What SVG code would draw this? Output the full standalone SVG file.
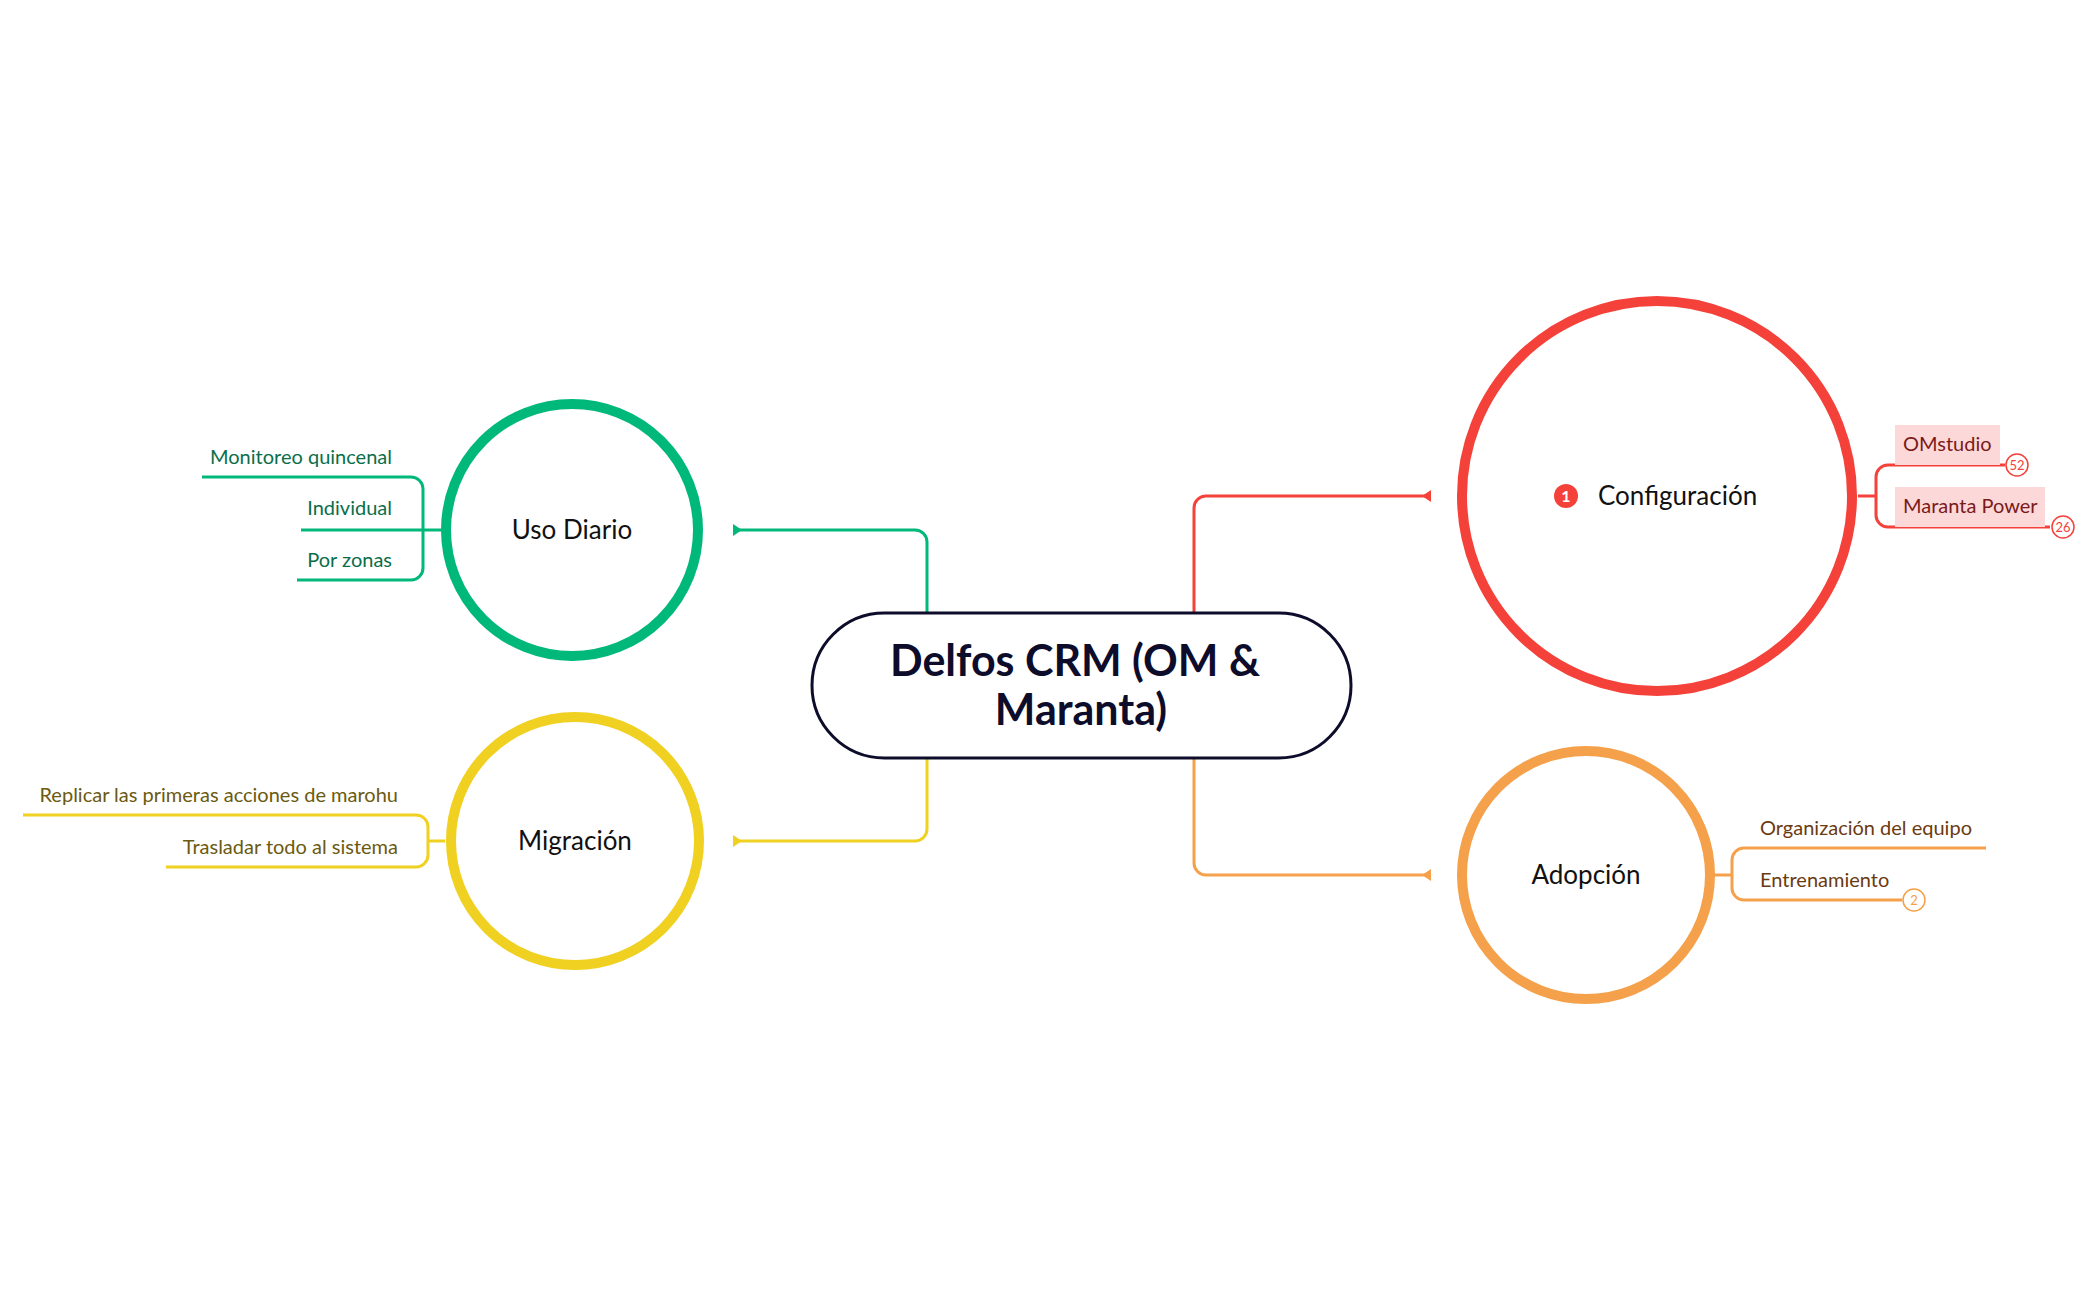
<svg xmlns="http://www.w3.org/2000/svg" width="2097" height="1300" viewBox="0 0 2097 1300">
<style>
text{font-family:"Lato","Noto Sans","Liberation Sans",sans-serif}
.lbl{font-size:26px;fill:#111;text-anchor:middle}
.sub{font-size:20px}
.badge{font-size:13px;text-anchor:middle}
</style>
<rect width="2097" height="1300" fill="#fff"/>
<g id="connectors" fill="none" stroke-width="3">
<path d="M927 613 V542 a12 12 0 0 0 -12 -12 H733" stroke="#00b87a"/>
<path d="M733 524 l9 6 l-9 6z" fill="#00b87a" stroke="none"/>
<path d="M927 758 V829 a12 12 0 0 1 -12 12 H733" stroke="#f0d020"/>
<path d="M733 835 l9 6 l-9 6z" fill="#f0d020" stroke="none"/>
<path d="M1194 613 V508 a12 12 0 0 1 12 -12 H1431" stroke="#f4423a"/>
<path d="M1431 490 l-9 6 l9 6z" fill="#f4423a" stroke="none"/>
<path d="M1194 758 V863 a12 12 0 0 0 12 12 H1431" stroke="#f5a04a"/>
<path d="M1431 869 l-9 6 l9 6z" fill="#f5a04a" stroke="none"/>
<g stroke="#00b87a">
<path d="M441 530 H423"/>
<path d="M202 477 H411 a12 12 0 0 1 12 12 V568 a12 12 0 0 1 -12 12 H297"/>
<path d="M301 530 H423"/>
</g>
<g stroke="#f0d020">
<path d="M445 841 H428"/>
<path d="M23 815 H416 a12 12 0 0 1 12 12 V855 a12 12 0 0 1 -12 12 H166"/>
</g>
<g stroke="#f4423a">
<path d="M1858 496 H1876"/>
<path d="M2005 465 H1888 a12 12 0 0 0 -12 12 V515 a12 12 0 0 0 12 12 H2050"/>
</g>
<g stroke="#f5a04a">
<path d="M1713 875 H1732"/>
<path d="M1986 848 H1744 a12 12 0 0 0 -12 12 V888 a12 12 0 0 0 12 12 H1902"/>
</g>
</g>
<g id="central">
<rect x="812" y="613" width="539" height="145" rx="72.5" fill="#fff" stroke="#0d0d2b" stroke-width="3"/>
<text x="1075" y="676" font-size="43" font-weight="bold" fill="#0d0d2b" text-anchor="middle">Delfos CRM (OM &amp;</text>
<text x="1081" y="725" font-size="43" font-weight="bold" fill="#0d0d2b" text-anchor="middle">Maranta)</text>
</g>
<g id="uso">
<circle cx="572" cy="530" r="126" fill="#fff" stroke="#00b87a" stroke-width="10"/>
<text class="lbl" x="572" y="539">Uso Diario</text>
<g class="sub" fill="#0a6e4a" text-anchor="end">
<text x="392" y="464">Monitoreo quincenal</text>
<text x="392" y="515">Individual</text>
<text x="392" y="567">Por zonas</text>
</g>
</g>
<g id="migracion">
<circle cx="575" cy="841" r="124" fill="#fff" stroke="#f0d020" stroke-width="10"/>
<text class="lbl" x="575" y="850">Migración</text>
<g class="sub" fill="#6b5a10" text-anchor="end">
<text x="398" y="802">Replicar las primeras acciones de marohu</text>
<text x="398" y="854">Trasladar todo al sistema</text>
</g>
</g>
<g id="configuracion">
<circle cx="1657" cy="496" r="195" fill="#fff" stroke="#f4423a" stroke-width="10"/>
<circle cx="1566" cy="496" r="12" fill="#f4423a"/>
<text x="1566" y="502" font-size="16" font-weight="bold" fill="#fff" text-anchor="middle">1</text>
<text x="1598" y="505" font-size="26" fill="#111">Configuración</text>
<rect x="1895" y="425" width="105" height="40" fill="#fdd8d8"/>
<rect x="1895" y="487" width="150" height="40" fill="#fdd8d8"/>
<g class="sub" fill="#7a1a1a">
<text x="1903" y="451">OMstudio</text>
<text x="1903" y="513">Maranta Power</text>
</g>
<circle cx="2017" cy="465" r="11" fill="#fff" stroke="#f4423a" stroke-width="1.5"/>
<text class="badge" x="2017" y="470" fill="#f4423a">52</text>
<circle cx="2063" cy="527" r="11" fill="#fff" stroke="#f4423a" stroke-width="1.5"/>
<text class="badge" x="2063" y="532" fill="#f4423a">26</text>
</g>
<g id="adopcion">
<circle cx="1586" cy="875" r="124" fill="#fff" stroke="#f5a04a" stroke-width="10"/>
<text class="lbl" x="1586" y="884">Adopción</text>
<g class="sub" fill="#6b3a10">
<text x="1760" y="835">Organización del equipo</text>
<text x="1760" y="887">Entrenamiento</text>
</g>
<circle cx="1914" cy="900" r="11" fill="#fff" stroke="#f5a04a" stroke-width="1.5"/>
<text class="badge" x="1914" y="905" fill="#f5a04a">2</text>
</g>
</svg>
